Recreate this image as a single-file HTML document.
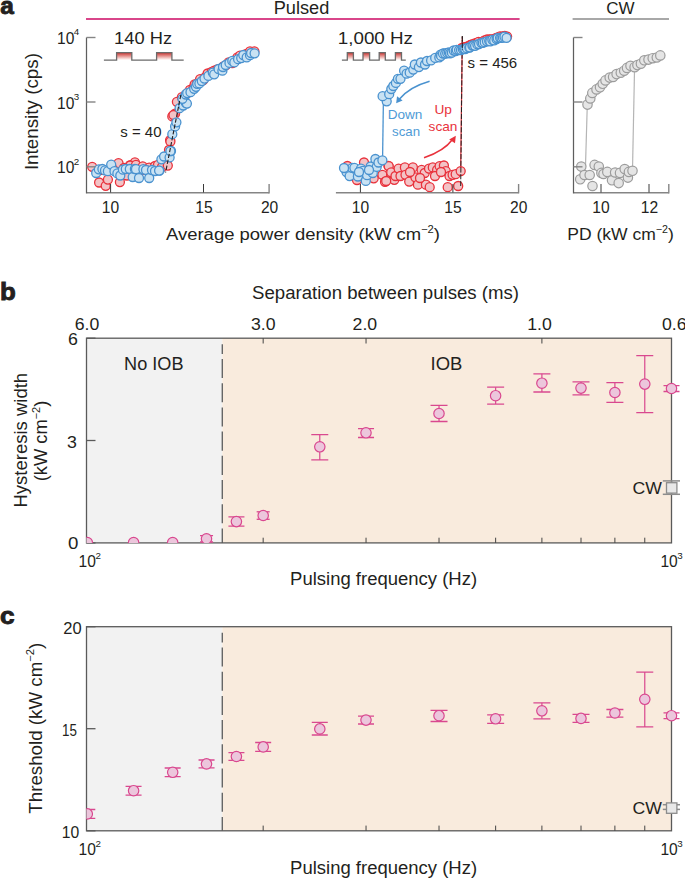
<!DOCTYPE html><html><head><meta charset="utf-8"><style>html,body{margin:0;padding:0;background:#fff;}svg{display:block;}</style></head><body><svg width="685" height="878" viewBox="0 0 685 878" font-family="Liberation Sans, sans-serif">
<defs><linearGradient id="pg" x1="0" y1="0" x2="0" y2="1"><stop offset="0" stop-color="#c9302c"/><stop offset="0.85" stop-color="#fbe3e0"/><stop offset="1" stop-color="#ffffff"/></linearGradient><clipPath id="cb"><rect x="86.5" y="330" width="600" height="212.9"/></clipPath><clipPath id="cc"><rect x="86.5" y="620" width="600" height="210.8"/></clipPath></defs>
<rect width="685" height="878" fill="#fff"/>
<text x="0.2" y="13.6" font-size="24.4" fill="#231f20" text-anchor="start" font-weight="bold" stroke="#231f20" stroke-width="0.9">a</text>
<text x="301.5" y="13.9" font-size="17.5" fill="#231f20" text-anchor="middle" textLength="55.6" lengthAdjust="spacingAndGlyphs" >Pulsed</text>
<line x1="86" y1="19" x2="519.6" y2="19" stroke="#d9468a" stroke-width="1.8" />
<text x="620.5" y="13.8" font-size="17" fill="#231f20" text-anchor="middle" >CW</text>
<line x1="572.6" y1="19" x2="669" y2="19" stroke="#a8a8a8" stroke-width="1.8" />
<text transform="translate(37.9,111.6) rotate(-90)" font-size="18.2" fill="#231f20" text-anchor="middle" textLength="117" lengthAdjust="spacingAndGlyphs">Intensity (cps)</text>
<text x="57.0" y="43.8" font-size="15.6" fill="#231f20">10<tspan font-size="9.8" dy="-8.4" dx="-0.6">4</tspan></text>
<text x="57.0" y="108.6" font-size="15.6" fill="#231f20">10<tspan font-size="9.8" dy="-8.4" dx="-0.6">3</tspan></text>
<text x="57.0" y="173.3" font-size="15.6" fill="#231f20">10<tspan font-size="9.8" dy="-8.4" dx="-0.6">2</tspan></text>
<text x="110.5" y="212.6" font-size="15.6" fill="#231f20" text-anchor="middle" >10</text>
<text x="204" y="212.6" font-size="15.6" fill="#231f20" text-anchor="middle" >15</text>
<text x="269.6" y="212.6" font-size="15.6" fill="#231f20" text-anchor="middle" >20</text>
<text x="360.4" y="212.6" font-size="15.6" fill="#231f20" text-anchor="middle" >10</text>
<text x="453" y="212.6" font-size="15.6" fill="#231f20" text-anchor="middle" >15</text>
<text x="518.7" y="212.6" font-size="15.6" fill="#231f20" text-anchor="middle" >20</text>
<text x="601" y="212.6" font-size="15.6" fill="#231f20" text-anchor="middle" >10</text>
<text x="649.5" y="212.6" font-size="15.6" fill="#231f20" text-anchor="middle" >12</text>
<text x="166" y="240.4" font-size="17.3" fill="#231f20" textLength="274" lengthAdjust="spacingAndGlyphs">Average power density (kW cm<tspan font-size="10.5" dy="-7">−2</tspan><tspan dy="7">)</tspan></text>
<text x="567.2" y="240.4" font-size="17.3" fill="#231f20" textLength="106.6" lengthAdjust="spacingAndGlyphs">PD (kW cm<tspan font-size="10.5" dy="-7">−2</tspan><tspan dy="7">)</tspan></text>
<rect x="116.6" y="52.6" width="15.200000000000017" height="7.5" fill="url(#pg)"/>
<rect x="156.6" y="52.6" width="15.300000000000011" height="7.5" fill="url(#pg)"/>
<path d="M103.9,60.1 L116.6,60.1 L116.6,52.6 L131.8,52.6 L131.8,60.1 L156.6,60.1 L156.6,52.6 L171.9,52.6 L171.9,60.1 L183.7,60.1" fill="none" stroke="#6b6b6b" stroke-width="1.3"/>
<rect x="347.3" y="52.6" width="6.099999999999966" height="7.5" fill="url(#pg)"/>
<rect x="363" y="52.6" width="6.600000000000023" height="7.5" fill="url(#pg)"/>
<rect x="379.2" y="52.6" width="6.100000000000023" height="7.5" fill="url(#pg)"/>
<rect x="395.4" y="52.6" width="6.100000000000023" height="7.5" fill="url(#pg)"/>
<path d="M341.9,60.1 L347.3,60.1 L347.3,52.6 L353.4,52.6 L353.4,60.1 L363,60.1 L363,52.6 L369.6,52.6 L369.6,60.1 L379.2,60.1 L379.2,52.6 L385.3,52.6 L385.3,60.1 L395.4,60.1 L395.4,52.6 L401.5,52.6 L401.5,60.1 L405.8,60.1" fill="none" stroke="#6b6b6b" stroke-width="1.3"/>
<text x="143.1" y="44" font-size="17.4" fill="#231f20" text-anchor="middle" textLength="58" lengthAdjust="spacingAndGlyphs" >140 Hz</text>
<text x="375.4" y="44" font-size="17.4" fill="#231f20" text-anchor="middle" textLength="75.2" lengthAdjust="spacingAndGlyphs" >1,000 Hz</text>
<circle cx="92.2" cy="166.8" r="4.5" fill="#f3c3c6" stroke="#e8323c" stroke-width="1.3"/>
<circle cx="99.1" cy="182.5" r="4.5" fill="#f3c3c6" stroke="#e8323c" stroke-width="1.3"/>
<circle cx="105.7" cy="185.8" r="4.5" fill="#f3c3c6" stroke="#e8323c" stroke-width="1.3"/>
<circle cx="107.9" cy="179.6" r="4.5" fill="#f3c3c6" stroke="#e8323c" stroke-width="1.3"/>
<circle cx="118.5" cy="163.1" r="4.5" fill="#f3c3c6" stroke="#e8323c" stroke-width="1.3"/>
<circle cx="119.9" cy="182.1" r="4.5" fill="#f3c3c6" stroke="#e8323c" stroke-width="1.3"/>
<circle cx="126.9" cy="175.5" r="4.5" fill="#f3c3c6" stroke="#e8323c" stroke-width="1.3"/>
<circle cx="129.8" cy="165.3" r="4.5" fill="#f3c3c6" stroke="#e8323c" stroke-width="1.3"/>
<circle cx="134.9" cy="162.4" r="4.5" fill="#f3c3c6" stroke="#e8323c" stroke-width="1.3"/>
<circle cx="130.3" cy="165.5" r="4.5" fill="#f3c3c6" stroke="#e8323c" stroke-width="1.3"/>
<circle cx="136.0" cy="164.8" r="4.5" fill="#f3c3c6" stroke="#e8323c" stroke-width="1.3"/>
<circle cx="142.7" cy="166.3" r="4.5" fill="#f3c3c6" stroke="#e8323c" stroke-width="1.3"/>
<circle cx="149.2" cy="167.7" r="4.5" fill="#f3c3c6" stroke="#e8323c" stroke-width="1.3"/>
<circle cx="155.0" cy="166.0" r="4.5" fill="#f3c3c6" stroke="#e8323c" stroke-width="1.3"/>
<circle cx="158.0" cy="164.8" r="4.5" fill="#f3c3c6" stroke="#e8323c" stroke-width="1.3"/>
<circle cx="162.0" cy="167.0" r="4.5" fill="#f3c3c6" stroke="#e8323c" stroke-width="1.3"/>
<circle cx="167.8" cy="165.6" r="4.5" fill="#f3c3c6" stroke="#e8323c" stroke-width="1.3"/>
<circle cx="170.1" cy="140.1" r="4.5" fill="#f3c3c6" stroke="#e8323c" stroke-width="1.3"/>
<circle cx="172.3" cy="116.4" r="4.5" fill="#f3c3c6" stroke="#e8323c" stroke-width="1.3"/>
<circle cx="175.1" cy="113.7" r="4.5" fill="#f3c3c6" stroke="#e8323c" stroke-width="1.3"/>
<circle cx="176.9" cy="101.8" r="4.5" fill="#f3c3c6" stroke="#e8323c" stroke-width="1.3"/>
<circle cx="170.4" cy="141.5" r="4.5" fill="#f3c3c6" stroke="#e8323c" stroke-width="1.3"/>
<circle cx="100.0" cy="170.0" r="4.5" fill="#f3c3c6" stroke="#e8323c" stroke-width="1.3"/>
<circle cx="112.0" cy="168.0" r="4.5" fill="#f3c3c6" stroke="#e8323c" stroke-width="1.3"/>
<circle cx="124.0" cy="168.0" r="4.5" fill="#f3c3c6" stroke="#e8323c" stroke-width="1.3"/>
<circle cx="146.0" cy="170.0" r="4.5" fill="#f3c3c6" stroke="#e8323c" stroke-width="1.3"/>
<circle cx="140.0" cy="171.0" r="4.5" fill="#f3c3c6" stroke="#e8323c" stroke-width="1.3"/>
<circle cx="173.5" cy="115.0" r="4.5" fill="#f3c3c6" stroke="#e8323c" stroke-width="1.3"/>
<circle cx="169.0" cy="150.0" r="4.5" fill="#f3c3c6" stroke="#e8323c" stroke-width="1.3"/>
<circle cx="181.9" cy="97.2" r="4.5" fill="#f3c3c6" stroke="#e8323c" stroke-width="1.3"/>
<circle cx="185.8" cy="94.6" r="4.5" fill="#f3c3c6" stroke="#e8323c" stroke-width="1.3"/>
<circle cx="187.9" cy="92.7" r="4.5" fill="#f3c3c6" stroke="#e8323c" stroke-width="1.3"/>
<circle cx="189.9" cy="89.8" r="4.5" fill="#f3c3c6" stroke="#e8323c" stroke-width="1.3"/>
<circle cx="193.4" cy="88.1" r="4.5" fill="#f3c3c6" stroke="#e8323c" stroke-width="1.3"/>
<circle cx="194.6" cy="84.4" r="4.5" fill="#f3c3c6" stroke="#e8323c" stroke-width="1.3"/>
<circle cx="196.7" cy="83.8" r="4.5" fill="#f3c3c6" stroke="#e8323c" stroke-width="1.3"/>
<circle cx="200.1" cy="79.1" r="4.5" fill="#f3c3c6" stroke="#e8323c" stroke-width="1.3"/>
<circle cx="203.3" cy="80.1" r="4.5" fill="#f3c3c6" stroke="#e8323c" stroke-width="1.3"/>
<circle cx="205.3" cy="77.1" r="4.5" fill="#f3c3c6" stroke="#e8323c" stroke-width="1.3"/>
<circle cx="207.6" cy="73.5" r="4.5" fill="#f3c3c6" stroke="#e8323c" stroke-width="1.3"/>
<circle cx="211.6" cy="72.0" r="4.5" fill="#f3c3c6" stroke="#e8323c" stroke-width="1.3"/>
<circle cx="214.2" cy="70.6" r="4.5" fill="#f3c3c6" stroke="#e8323c" stroke-width="1.3"/>
<circle cx="217.2" cy="69.3" r="4.5" fill="#f3c3c6" stroke="#e8323c" stroke-width="1.3"/>
<circle cx="220.6" cy="68.8" r="4.5" fill="#f3c3c6" stroke="#e8323c" stroke-width="1.3"/>
<circle cx="223.4" cy="66.5" r="4.5" fill="#f3c3c6" stroke="#e8323c" stroke-width="1.3"/>
<circle cx="226.0" cy="65.1" r="4.5" fill="#f3c3c6" stroke="#e8323c" stroke-width="1.3"/>
<circle cx="228.6" cy="62.3" r="4.5" fill="#f3c3c6" stroke="#e8323c" stroke-width="1.3"/>
<circle cx="232.3" cy="63.1" r="4.5" fill="#f3c3c6" stroke="#e8323c" stroke-width="1.3"/>
<circle cx="235.2" cy="60.6" r="4.5" fill="#f3c3c6" stroke="#e8323c" stroke-width="1.3"/>
<circle cx="237.4" cy="57.4" r="4.5" fill="#f3c3c6" stroke="#e8323c" stroke-width="1.3"/>
<circle cx="240.0" cy="55.6" r="4.5" fill="#f3c3c6" stroke="#e8323c" stroke-width="1.3"/>
<circle cx="243.6" cy="55.3" r="4.5" fill="#f3c3c6" stroke="#e8323c" stroke-width="1.3"/>
<circle cx="246.4" cy="53.9" r="4.5" fill="#f3c3c6" stroke="#e8323c" stroke-width="1.3"/>
<circle cx="249.2" cy="54.4" r="4.5" fill="#f3c3c6" stroke="#e8323c" stroke-width="1.3"/>
<circle cx="250.0" cy="51.4" r="4.5" fill="#f3c3c6" stroke="#e8323c" stroke-width="1.3"/>
<circle cx="254.4" cy="51.3" r="4.5" fill="#f3c3c6" stroke="#e8323c" stroke-width="1.3"/>
<circle cx="96.2" cy="173.0" r="4.5" fill="#c9e2f3" stroke="#4a92cf" stroke-width="1.3"/>
<circle cx="98.8" cy="169.3" r="4.5" fill="#c9e2f3" stroke="#4a92cf" stroke-width="1.3"/>
<circle cx="102.4" cy="169.0" r="4.5" fill="#c9e2f3" stroke="#4a92cf" stroke-width="1.3"/>
<circle cx="105.0" cy="170.4" r="4.5" fill="#c9e2f3" stroke="#4a92cf" stroke-width="1.3"/>
<circle cx="107.9" cy="171.2" r="4.5" fill="#c9e2f3" stroke="#4a92cf" stroke-width="1.3"/>
<circle cx="111.2" cy="164.6" r="4.5" fill="#c9e2f3" stroke="#4a92cf" stroke-width="1.3"/>
<circle cx="114.5" cy="171.2" r="4.5" fill="#c9e2f3" stroke="#4a92cf" stroke-width="1.3"/>
<circle cx="117.4" cy="173.4" r="4.5" fill="#c9e2f3" stroke="#4a92cf" stroke-width="1.3"/>
<circle cx="120.3" cy="175.5" r="4.5" fill="#c9e2f3" stroke="#4a92cf" stroke-width="1.3"/>
<circle cx="122.9" cy="169.7" r="4.5" fill="#c9e2f3" stroke="#4a92cf" stroke-width="1.3"/>
<circle cx="125.8" cy="169.0" r="4.5" fill="#c9e2f3" stroke="#4a92cf" stroke-width="1.3"/>
<circle cx="129.8" cy="169.0" r="4.5" fill="#c9e2f3" stroke="#4a92cf" stroke-width="1.3"/>
<circle cx="132.7" cy="177.0" r="4.5" fill="#c9e2f3" stroke="#4a92cf" stroke-width="1.3"/>
<circle cx="134.9" cy="169.0" r="4.5" fill="#c9e2f3" stroke="#4a92cf" stroke-width="1.3"/>
<circle cx="136.0" cy="169.2" r="4.5" fill="#c9e2f3" stroke="#4a92cf" stroke-width="1.3"/>
<circle cx="139.0" cy="178.0" r="4.5" fill="#c9e2f3" stroke="#4a92cf" stroke-width="1.3"/>
<circle cx="143.4" cy="169.2" r="4.5" fill="#c9e2f3" stroke="#4a92cf" stroke-width="1.3"/>
<circle cx="146.0" cy="170.0" r="4.5" fill="#c9e2f3" stroke="#4a92cf" stroke-width="1.3"/>
<circle cx="149.2" cy="178.0" r="4.5" fill="#c9e2f3" stroke="#4a92cf" stroke-width="1.3"/>
<circle cx="152.0" cy="170.0" r="4.5" fill="#c9e2f3" stroke="#4a92cf" stroke-width="1.3"/>
<circle cx="155.0" cy="171.0" r="4.5" fill="#c9e2f3" stroke="#4a92cf" stroke-width="1.3"/>
<circle cx="159.5" cy="170.7" r="4.5" fill="#c9e2f3" stroke="#4a92cf" stroke-width="1.3"/>
<circle cx="159.1" cy="170.6" r="4.5" fill="#c9e2f3" stroke="#4a92cf" stroke-width="1.3"/>
<circle cx="161.4" cy="159.3" r="4.5" fill="#c9e2f3" stroke="#4a92cf" stroke-width="1.3"/>
<circle cx="164.1" cy="156.5" r="4.5" fill="#c9e2f3" stroke="#4a92cf" stroke-width="1.3"/>
<circle cx="169.6" cy="157.4" r="4.5" fill="#c9e2f3" stroke="#4a92cf" stroke-width="1.3"/>
<circle cx="171.0" cy="151.0" r="4.5" fill="#c9e2f3" stroke="#4a92cf" stroke-width="1.3"/>
<circle cx="170.4" cy="151.0" r="4.5" fill="#c9e2f3" stroke="#4a92cf" stroke-width="1.3"/>
<circle cx="172.3" cy="134.2" r="4.5" fill="#c9e2f3" stroke="#4a92cf" stroke-width="1.3"/>
<circle cx="175.1" cy="126.4" r="4.5" fill="#c9e2f3" stroke="#4a92cf" stroke-width="1.3"/>
<circle cx="176.4" cy="122.3" r="4.5" fill="#c9e2f3" stroke="#4a92cf" stroke-width="1.3"/>
<circle cx="179.6" cy="108.2" r="4.5" fill="#c9e2f3" stroke="#4a92cf" stroke-width="1.3"/>
<circle cx="183.3" cy="105.5" r="4.5" fill="#c9e2f3" stroke="#4a92cf" stroke-width="1.3"/>
<circle cx="185.8" cy="102.8" r="4.5" fill="#c9e2f3" stroke="#4a92cf" stroke-width="1.3"/>
<circle cx="186.9" cy="103.6" r="4.5" fill="#c9e2f3" stroke="#4a92cf" stroke-width="1.3"/>
<circle cx="182.4" cy="98.8" r="4.5" fill="#c9e2f3" stroke="#4a92cf" stroke-width="1.3"/>
<circle cx="185.8" cy="94.5" r="4.5" fill="#c9e2f3" stroke="#4a92cf" stroke-width="1.3"/>
<circle cx="187.2" cy="93.1" r="4.5" fill="#c9e2f3" stroke="#4a92cf" stroke-width="1.3"/>
<circle cx="190.5" cy="92.2" r="4.5" fill="#c9e2f3" stroke="#4a92cf" stroke-width="1.3"/>
<circle cx="194.2" cy="88.8" r="4.5" fill="#c9e2f3" stroke="#4a92cf" stroke-width="1.3"/>
<circle cx="196.0" cy="86.8" r="4.5" fill="#c9e2f3" stroke="#4a92cf" stroke-width="1.3"/>
<circle cx="197.2" cy="83.8" r="4.5" fill="#c9e2f3" stroke="#4a92cf" stroke-width="1.3"/>
<circle cx="199.4" cy="83.4" r="4.5" fill="#c9e2f3" stroke="#4a92cf" stroke-width="1.3"/>
<circle cx="201.8" cy="81.1" r="4.5" fill="#c9e2f3" stroke="#4a92cf" stroke-width="1.3"/>
<circle cx="204.5" cy="78.6" r="4.5" fill="#c9e2f3" stroke="#4a92cf" stroke-width="1.3"/>
<circle cx="208.4" cy="75.9" r="4.5" fill="#c9e2f3" stroke="#4a92cf" stroke-width="1.3"/>
<circle cx="212.8" cy="72.7" r="4.5" fill="#c9e2f3" stroke="#4a92cf" stroke-width="1.3"/>
<circle cx="214.2" cy="74.3" r="4.5" fill="#c9e2f3" stroke="#4a92cf" stroke-width="1.3"/>
<circle cx="218.6" cy="69.0" r="4.5" fill="#c9e2f3" stroke="#4a92cf" stroke-width="1.3"/>
<circle cx="222.4" cy="70.7" r="4.5" fill="#c9e2f3" stroke="#4a92cf" stroke-width="1.3"/>
<circle cx="223.0" cy="67.0" r="4.5" fill="#c9e2f3" stroke="#4a92cf" stroke-width="1.3"/>
<circle cx="225.7" cy="65.0" r="4.5" fill="#c9e2f3" stroke="#4a92cf" stroke-width="1.3"/>
<circle cx="229.5" cy="62.9" r="4.5" fill="#c9e2f3" stroke="#4a92cf" stroke-width="1.3"/>
<circle cx="232.3" cy="60.9" r="4.5" fill="#c9e2f3" stroke="#4a92cf" stroke-width="1.3"/>
<circle cx="234.3" cy="62.4" r="4.5" fill="#c9e2f3" stroke="#4a92cf" stroke-width="1.3"/>
<circle cx="238.1" cy="59.2" r="4.5" fill="#c9e2f3" stroke="#4a92cf" stroke-width="1.3"/>
<circle cx="241.2" cy="58.1" r="4.5" fill="#c9e2f3" stroke="#4a92cf" stroke-width="1.3"/>
<circle cx="243.3" cy="55.0" r="4.5" fill="#c9e2f3" stroke="#4a92cf" stroke-width="1.3"/>
<circle cx="246.7" cy="57.4" r="4.5" fill="#c9e2f3" stroke="#4a92cf" stroke-width="1.3"/>
<circle cx="250.0" cy="55.2" r="4.5" fill="#c9e2f3" stroke="#4a92cf" stroke-width="1.3"/>
<circle cx="251.1" cy="53.0" r="4.5" fill="#c9e2f3" stroke="#4a92cf" stroke-width="1.3"/>
<circle cx="254.6" cy="53.3" r="4.5" fill="#c9e2f3" stroke="#4a92cf" stroke-width="1.3"/>
<line x1="180.8" y1="95" x2="165.6" y2="172.5" stroke="#231f20" stroke-width="1.1" stroke-dasharray="4.2 1.8"/>
<text x="120.3" y="137" font-size="15" fill="#231f20" text-anchor="start" textLength="41.2" lengthAdjust="spacingAndGlyphs" >s = 40</text>
<circle cx="347.4" cy="166.0" r="4.5" fill="#f3c3c6" stroke="#e8323c" stroke-width="1.3"/>
<circle cx="357.0" cy="180.0" r="4.5" fill="#f3c3c6" stroke="#e8323c" stroke-width="1.3"/>
<circle cx="364.0" cy="162.5" r="4.5" fill="#f3c3c6" stroke="#e8323c" stroke-width="1.3"/>
<circle cx="373.7" cy="178.3" r="4.5" fill="#f3c3c6" stroke="#e8323c" stroke-width="1.3"/>
<circle cx="382.4" cy="174.8" r="4.5" fill="#f3c3c6" stroke="#e8323c" stroke-width="1.3"/>
<circle cx="385.0" cy="181.8" r="4.5" fill="#f3c3c6" stroke="#e8323c" stroke-width="1.3"/>
<circle cx="388.5" cy="166.0" r="4.5" fill="#f3c3c6" stroke="#e8323c" stroke-width="1.3"/>
<circle cx="391.2" cy="173.9" r="4.5" fill="#f3c3c6" stroke="#e8323c" stroke-width="1.3"/>
<circle cx="394.7" cy="175.6" r="4.5" fill="#f3c3c6" stroke="#e8323c" stroke-width="1.3"/>
<circle cx="388.7" cy="166.1" r="4.5" fill="#f3c3c6" stroke="#e8323c" stroke-width="1.3"/>
<circle cx="391.2" cy="172.3" r="4.5" fill="#f3c3c6" stroke="#e8323c" stroke-width="1.3"/>
<circle cx="394.3" cy="179.8" r="4.5" fill="#f3c3c6" stroke="#e8323c" stroke-width="1.3"/>
<circle cx="395.5" cy="176.0" r="4.5" fill="#f3c3c6" stroke="#e8323c" stroke-width="1.3"/>
<circle cx="398.6" cy="168.6" r="4.5" fill="#f3c3c6" stroke="#e8323c" stroke-width="1.3"/>
<circle cx="400.5" cy="176.0" r="4.5" fill="#f3c3c6" stroke="#e8323c" stroke-width="1.3"/>
<circle cx="404.9" cy="167.4" r="4.5" fill="#f3c3c6" stroke="#e8323c" stroke-width="1.3"/>
<circle cx="405.5" cy="174.8" r="4.5" fill="#f3c3c6" stroke="#e8323c" stroke-width="1.3"/>
<circle cx="409.2" cy="181.6" r="4.5" fill="#f3c3c6" stroke="#e8323c" stroke-width="1.3"/>
<circle cx="412.9" cy="167.4" r="4.5" fill="#f3c3c6" stroke="#e8323c" stroke-width="1.3"/>
<circle cx="415.4" cy="177.3" r="4.5" fill="#f3c3c6" stroke="#e8323c" stroke-width="1.3"/>
<circle cx="417.9" cy="184.7" r="4.5" fill="#f3c3c6" stroke="#e8323c" stroke-width="1.3"/>
<circle cx="421.6" cy="169.9" r="4.5" fill="#f3c3c6" stroke="#e8323c" stroke-width="1.3"/>
<circle cx="424.7" cy="173.0" r="4.5" fill="#f3c3c6" stroke="#e8323c" stroke-width="1.3"/>
<circle cx="425.9" cy="184.7" r="4.5" fill="#f3c3c6" stroke="#e8323c" stroke-width="1.3"/>
<circle cx="429.0" cy="168.6" r="4.5" fill="#f3c3c6" stroke="#e8323c" stroke-width="1.3"/>
<circle cx="429.7" cy="187.2" r="4.5" fill="#f3c3c6" stroke="#e8323c" stroke-width="1.3"/>
<circle cx="432.8" cy="167.4" r="4.5" fill="#f3c3c6" stroke="#e8323c" stroke-width="1.3"/>
<circle cx="437.1" cy="169.9" r="4.5" fill="#f3c3c6" stroke="#e8323c" stroke-width="1.3"/>
<circle cx="439.6" cy="166.1" r="4.5" fill="#f3c3c6" stroke="#e8323c" stroke-width="1.3"/>
<circle cx="443.9" cy="165.5" r="4.5" fill="#f3c3c6" stroke="#e8323c" stroke-width="1.3"/>
<circle cx="445.8" cy="171.1" r="4.5" fill="#f3c3c6" stroke="#e8323c" stroke-width="1.3"/>
<circle cx="447.7" cy="187.2" r="4.5" fill="#f3c3c6" stroke="#e8323c" stroke-width="1.3"/>
<circle cx="449.5" cy="176.0" r="4.5" fill="#f3c3c6" stroke="#e8323c" stroke-width="1.3"/>
<circle cx="452.6" cy="174.8" r="4.5" fill="#f3c3c6" stroke="#e8323c" stroke-width="1.3"/>
<circle cx="455.7" cy="174.2" r="4.5" fill="#f3c3c6" stroke="#e8323c" stroke-width="1.3"/>
<circle cx="458.2" cy="186.0" r="4.5" fill="#f3c3c6" stroke="#e8323c" stroke-width="1.3"/>
<circle cx="460.7" cy="171.1" r="4.5" fill="#f3c3c6" stroke="#e8323c" stroke-width="1.3"/>
<circle cx="386.2" cy="181.0" r="4.5" fill="#f3c3c6" stroke="#e8323c" stroke-width="1.3"/>
<circle cx="410.0" cy="172.0" r="4.5" fill="#f3c3c6" stroke="#e8323c" stroke-width="1.3"/>
<circle cx="420.0" cy="178.0" r="4.5" fill="#f3c3c6" stroke="#e8323c" stroke-width="1.3"/>
<circle cx="435.0" cy="176.0" r="4.5" fill="#f3c3c6" stroke="#e8323c" stroke-width="1.3"/>
<circle cx="441.0" cy="172.0" r="4.5" fill="#f3c3c6" stroke="#e8323c" stroke-width="1.3"/>
<line x1="460.7" y1="168" x2="462.3" y2="36.5" stroke="#e8323c" stroke-width="1.2" />
<line x1="460.7" y1="186" x2="462.3" y2="36.5" stroke="#231f20" stroke-width="1.0" stroke-dasharray="5.2 1.5"/>
<circle cx="461.9" cy="48.0" r="4.5" fill="#f3c3c6" stroke="#e8323c" stroke-width="1.3"/>
<circle cx="464.4" cy="47.1" r="4.5" fill="#f3c3c6" stroke="#e8323c" stroke-width="1.3"/>
<circle cx="466.0" cy="47.0" r="4.5" fill="#f3c3c6" stroke="#e8323c" stroke-width="1.3"/>
<circle cx="468.6" cy="46.0" r="4.5" fill="#f3c3c6" stroke="#e8323c" stroke-width="1.3"/>
<circle cx="470.4" cy="45.0" r="4.5" fill="#f3c3c6" stroke="#e8323c" stroke-width="1.3"/>
<circle cx="472.0" cy="44.5" r="4.5" fill="#f3c3c6" stroke="#e8323c" stroke-width="1.3"/>
<circle cx="474.7" cy="43.3" r="4.5" fill="#f3c3c6" stroke="#e8323c" stroke-width="1.3"/>
<circle cx="477.0" cy="42.9" r="4.5" fill="#f3c3c6" stroke="#e8323c" stroke-width="1.3"/>
<circle cx="478.5" cy="41.9" r="4.5" fill="#f3c3c6" stroke="#e8323c" stroke-width="1.3"/>
<circle cx="481.4" cy="42.3" r="4.5" fill="#f3c3c6" stroke="#e8323c" stroke-width="1.3"/>
<circle cx="483.3" cy="41.5" r="4.5" fill="#f3c3c6" stroke="#e8323c" stroke-width="1.3"/>
<circle cx="484.5" cy="40.4" r="4.5" fill="#f3c3c6" stroke="#e8323c" stroke-width="1.3"/>
<circle cx="487.0" cy="39.5" r="4.5" fill="#f3c3c6" stroke="#e8323c" stroke-width="1.3"/>
<circle cx="489.4" cy="39.3" r="4.5" fill="#f3c3c6" stroke="#e8323c" stroke-width="1.3"/>
<circle cx="491.0" cy="39.4" r="4.5" fill="#f3c3c6" stroke="#e8323c" stroke-width="1.3"/>
<circle cx="493.4" cy="39.1" r="4.5" fill="#f3c3c6" stroke="#e8323c" stroke-width="1.3"/>
<circle cx="496.1" cy="37.9" r="4.5" fill="#f3c3c6" stroke="#e8323c" stroke-width="1.3"/>
<circle cx="498.0" cy="37.4" r="4.5" fill="#f3c3c6" stroke="#e8323c" stroke-width="1.3"/>
<circle cx="500.0" cy="36.3" r="4.5" fill="#f3c3c6" stroke="#e8323c" stroke-width="1.3"/>
<circle cx="502.8" cy="36.3" r="4.5" fill="#f3c3c6" stroke="#e8323c" stroke-width="1.3"/>
<circle cx="504.8" cy="35.9" r="4.5" fill="#f3c3c6" stroke="#e8323c" stroke-width="1.3"/>
<circle cx="507.1" cy="36.6" r="4.5" fill="#f3c3c6" stroke="#e8323c" stroke-width="1.3"/>
<line x1="382.6" y1="158" x2="383.4" y2="100" stroke="#4a92cf" stroke-width="1.3" />
<circle cx="346.5" cy="172.1" r="4.5" fill="#c9e2f3" stroke="#4a92cf" stroke-width="1.3"/>
<circle cx="349.6" cy="176.1" r="4.5" fill="#c9e2f3" stroke="#4a92cf" stroke-width="1.3"/>
<circle cx="352.2" cy="167.8" r="4.5" fill="#c9e2f3" stroke="#4a92cf" stroke-width="1.3"/>
<circle cx="354.4" cy="167.8" r="4.5" fill="#c9e2f3" stroke="#4a92cf" stroke-width="1.3"/>
<circle cx="357.9" cy="176.5" r="4.5" fill="#c9e2f3" stroke="#4a92cf" stroke-width="1.3"/>
<circle cx="361.0" cy="168.6" r="4.5" fill="#c9e2f3" stroke="#4a92cf" stroke-width="1.3"/>
<circle cx="362.7" cy="170.8" r="4.5" fill="#c9e2f3" stroke="#4a92cf" stroke-width="1.3"/>
<circle cx="365.8" cy="180.9" r="4.5" fill="#c9e2f3" stroke="#4a92cf" stroke-width="1.3"/>
<circle cx="367.1" cy="175.2" r="4.5" fill="#c9e2f3" stroke="#4a92cf" stroke-width="1.3"/>
<circle cx="370.6" cy="166.5" r="4.5" fill="#c9e2f3" stroke="#4a92cf" stroke-width="1.3"/>
<circle cx="372.8" cy="173.0" r="4.5" fill="#c9e2f3" stroke="#4a92cf" stroke-width="1.3"/>
<circle cx="375.4" cy="159.0" r="4.5" fill="#c9e2f3" stroke="#4a92cf" stroke-width="1.3"/>
<circle cx="376.7" cy="166.9" r="4.5" fill="#c9e2f3" stroke="#4a92cf" stroke-width="1.3"/>
<circle cx="378.5" cy="162.5" r="4.5" fill="#c9e2f3" stroke="#4a92cf" stroke-width="1.3"/>
<circle cx="382.4" cy="160.3" r="4.5" fill="#c9e2f3" stroke="#4a92cf" stroke-width="1.3"/>
<circle cx="344.0" cy="168.0" r="4.5" fill="#c9e2f3" stroke="#4a92cf" stroke-width="1.3"/>
<circle cx="359.0" cy="172.0" r="4.5" fill="#c9e2f3" stroke="#4a92cf" stroke-width="1.3"/>
<circle cx="369.0" cy="170.0" r="4.5" fill="#c9e2f3" stroke="#4a92cf" stroke-width="1.3"/>
<circle cx="386.7" cy="101.3" r="4.5" fill="#c9e2f3" stroke="#4a92cf" stroke-width="1.3"/>
<circle cx="382.6" cy="96.2" r="4.5" fill="#c9e2f3" stroke="#4a92cf" stroke-width="1.3"/>
<circle cx="389.2" cy="94.2" r="4.5" fill="#c9e2f3" stroke="#4a92cf" stroke-width="1.3"/>
<circle cx="391.3" cy="89.0" r="4.5" fill="#c9e2f3" stroke="#4a92cf" stroke-width="1.3"/>
<circle cx="393.3" cy="86.0" r="4.5" fill="#c9e2f3" stroke="#4a92cf" stroke-width="1.3"/>
<circle cx="395.9" cy="82.9" r="4.5" fill="#c9e2f3" stroke="#4a92cf" stroke-width="1.3"/>
<circle cx="397.9" cy="78.8" r="4.5" fill="#c9e2f3" stroke="#4a92cf" stroke-width="1.3"/>
<circle cx="400.5" cy="78.8" r="4.5" fill="#c9e2f3" stroke="#4a92cf" stroke-width="1.3"/>
<circle cx="404.1" cy="70.7" r="4.5" fill="#c9e2f3" stroke="#4a92cf" stroke-width="1.3"/>
<circle cx="406.6" cy="73.7" r="4.5" fill="#c9e2f3" stroke="#4a92cf" stroke-width="1.3"/>
<circle cx="409.7" cy="72.7" r="4.5" fill="#c9e2f3" stroke="#4a92cf" stroke-width="1.3"/>
<circle cx="413.3" cy="69.6" r="4.5" fill="#c9e2f3" stroke="#4a92cf" stroke-width="1.3"/>
<circle cx="414.8" cy="64.5" r="4.5" fill="#c9e2f3" stroke="#4a92cf" stroke-width="1.3"/>
<circle cx="418.9" cy="67.1" r="4.5" fill="#c9e2f3" stroke="#4a92cf" stroke-width="1.3"/>
<circle cx="420.9" cy="62.5" r="4.5" fill="#c9e2f3" stroke="#4a92cf" stroke-width="1.3"/>
<circle cx="425.0" cy="64.5" r="4.5" fill="#c9e2f3" stroke="#4a92cf" stroke-width="1.3"/>
<circle cx="427.0" cy="61.0" r="4.5" fill="#c9e2f3" stroke="#4a92cf" stroke-width="1.3"/>
<circle cx="431.1" cy="60.4" r="4.5" fill="#c9e2f3" stroke="#4a92cf" stroke-width="1.3"/>
<circle cx="435.2" cy="57.9" r="4.5" fill="#c9e2f3" stroke="#4a92cf" stroke-width="1.3"/>
<circle cx="439.3" cy="57.4" r="4.5" fill="#c9e2f3" stroke="#4a92cf" stroke-width="1.3"/>
<circle cx="443.4" cy="53.3" r="4.5" fill="#c9e2f3" stroke="#4a92cf" stroke-width="1.3"/>
<circle cx="446.5" cy="53.3" r="4.5" fill="#c9e2f3" stroke="#4a92cf" stroke-width="1.3"/>
<circle cx="440.5" cy="54.7" r="4.5" fill="#c9e2f3" stroke="#4a92cf" stroke-width="1.3"/>
<circle cx="441.1" cy="55.9" r="4.5" fill="#c9e2f3" stroke="#4a92cf" stroke-width="1.3"/>
<circle cx="443.0" cy="53.6" r="4.5" fill="#c9e2f3" stroke="#4a92cf" stroke-width="1.3"/>
<circle cx="445.2" cy="53.6" r="4.5" fill="#c9e2f3" stroke="#4a92cf" stroke-width="1.3"/>
<circle cx="447.2" cy="52.9" r="4.5" fill="#c9e2f3" stroke="#4a92cf" stroke-width="1.3"/>
<circle cx="448.9" cy="52.5" r="4.5" fill="#c9e2f3" stroke="#4a92cf" stroke-width="1.3"/>
<circle cx="450.1" cy="53.3" r="4.5" fill="#c9e2f3" stroke="#4a92cf" stroke-width="1.3"/>
<circle cx="451.9" cy="52.7" r="4.5" fill="#c9e2f3" stroke="#4a92cf" stroke-width="1.3"/>
<circle cx="453.7" cy="50.5" r="4.5" fill="#c9e2f3" stroke="#4a92cf" stroke-width="1.3"/>
<circle cx="455.7" cy="51.1" r="4.5" fill="#c9e2f3" stroke="#4a92cf" stroke-width="1.3"/>
<circle cx="456.7" cy="49.8" r="4.5" fill="#c9e2f3" stroke="#4a92cf" stroke-width="1.3"/>
<circle cx="459.1" cy="50.1" r="4.5" fill="#c9e2f3" stroke="#4a92cf" stroke-width="1.3"/>
<circle cx="461.0" cy="50.0" r="4.5" fill="#c9e2f3" stroke="#4a92cf" stroke-width="1.3"/>
<circle cx="462.8" cy="49.1" r="4.5" fill="#c9e2f3" stroke="#4a92cf" stroke-width="1.3"/>
<circle cx="464.1" cy="48.8" r="4.5" fill="#c9e2f3" stroke="#4a92cf" stroke-width="1.3"/>
<circle cx="465.2" cy="49.0" r="4.5" fill="#c9e2f3" stroke="#4a92cf" stroke-width="1.3"/>
<circle cx="466.9" cy="48.2" r="4.5" fill="#c9e2f3" stroke="#4a92cf" stroke-width="1.3"/>
<circle cx="469.3" cy="47.5" r="4.5" fill="#c9e2f3" stroke="#4a92cf" stroke-width="1.3"/>
<circle cx="470.0" cy="47.4" r="4.5" fill="#c9e2f3" stroke="#4a92cf" stroke-width="1.3"/>
<circle cx="472.4" cy="45.5" r="4.5" fill="#c9e2f3" stroke="#4a92cf" stroke-width="1.3"/>
<circle cx="473.4" cy="45.6" r="4.5" fill="#c9e2f3" stroke="#4a92cf" stroke-width="1.3"/>
<circle cx="475.1" cy="45.8" r="4.5" fill="#c9e2f3" stroke="#4a92cf" stroke-width="1.3"/>
<circle cx="477.4" cy="44.4" r="4.5" fill="#c9e2f3" stroke="#4a92cf" stroke-width="1.3"/>
<circle cx="479.0" cy="44.1" r="4.5" fill="#c9e2f3" stroke="#4a92cf" stroke-width="1.3"/>
<circle cx="481.4" cy="42.8" r="4.5" fill="#c9e2f3" stroke="#4a92cf" stroke-width="1.3"/>
<circle cx="482.8" cy="42.8" r="4.5" fill="#c9e2f3" stroke="#4a92cf" stroke-width="1.3"/>
<circle cx="484.7" cy="42.2" r="4.5" fill="#c9e2f3" stroke="#4a92cf" stroke-width="1.3"/>
<circle cx="487.0" cy="41.3" r="4.5" fill="#c9e2f3" stroke="#4a92cf" stroke-width="1.3"/>
<circle cx="489.2" cy="40.9" r="4.5" fill="#c9e2f3" stroke="#4a92cf" stroke-width="1.3"/>
<circle cx="490.3" cy="41.4" r="4.5" fill="#c9e2f3" stroke="#4a92cf" stroke-width="1.3"/>
<circle cx="492.4" cy="39.8" r="4.5" fill="#c9e2f3" stroke="#4a92cf" stroke-width="1.3"/>
<circle cx="494.2" cy="40.4" r="4.5" fill="#c9e2f3" stroke="#4a92cf" stroke-width="1.3"/>
<circle cx="496.6" cy="39.1" r="4.5" fill="#c9e2f3" stroke="#4a92cf" stroke-width="1.3"/>
<circle cx="497.7" cy="38.0" r="4.5" fill="#c9e2f3" stroke="#4a92cf" stroke-width="1.3"/>
<circle cx="500.1" cy="37.8" r="4.5" fill="#c9e2f3" stroke="#4a92cf" stroke-width="1.3"/>
<circle cx="501.4" cy="37.9" r="4.5" fill="#c9e2f3" stroke="#4a92cf" stroke-width="1.3"/>
<circle cx="502.9" cy="37.6" r="4.5" fill="#c9e2f3" stroke="#4a92cf" stroke-width="1.3"/>
<circle cx="504.5" cy="36.7" r="4.5" fill="#c9e2f3" stroke="#4a92cf" stroke-width="1.3"/>
<circle cx="506.6" cy="37.9" r="4.5" fill="#c9e2f3" stroke="#4a92cf" stroke-width="1.3"/>
<line x1="462.3" y1="36" x2="462.3" y2="50" stroke="#231f20" stroke-width="1.0" stroke-dasharray="5.2 1.5"/>
<text x="467.5" y="68.2" font-size="15" fill="#231f20" text-anchor="start" textLength="49.7" lengthAdjust="spacingAndGlyphs" >s = 456</text>
<path d="M429.6,81.2 Q409,87 399,99.5" fill="none" stroke="#4a92cf" stroke-width="1.5"/>
<path d="M396.2,103.2 L397,96.2 L402.6,100.4 Z" fill="#4a92cf"/>
<path d="M424,157.8 Q444,151 452.5,139.5" fill="none" stroke="#e8323c" stroke-width="1.5"/>
<path d="M455.8,135.8 L455,143.2 L449.2,139.4 Z" fill="#e8323c"/>
<text x="405" y="119.4" font-size="13" fill="#4f9bd6" text-anchor="middle" textLength="34.7" lengthAdjust="spacingAndGlyphs" >Down</text>
<text x="406.1" y="135.7" font-size="13" fill="#4f9bd6" text-anchor="middle" textLength="28" lengthAdjust="spacingAndGlyphs" >scan</text>
<text x="443.2" y="114.4" font-size="13" fill="#e8323c" text-anchor="middle" textLength="17.5" lengthAdjust="spacingAndGlyphs" >Up</text>
<text x="443" y="131.2" font-size="13" fill="#e8323c" text-anchor="middle" textLength="28.9" lengthAdjust="spacingAndGlyphs" >scan</text>
<line x1="587.3" y1="104.6" x2="585.5" y2="166" stroke="#b5b5b5" stroke-width="1.2" />
<line x1="634.6" y1="66" x2="632.5" y2="170" stroke="#b5b5b5" stroke-width="1.2" />
<circle cx="581.3" cy="166.6" r="4.7" fill="#e5e5e5" stroke="#9c9c9c" stroke-width="1.2"/>
<circle cx="580.2" cy="179.3" r="4.7" fill="#e5e5e5" stroke="#9c9c9c" stroke-width="1.2"/>
<circle cx="584.5" cy="175.0" r="4.7" fill="#e5e5e5" stroke="#9c9c9c" stroke-width="1.2"/>
<circle cx="589.7" cy="175.0" r="4.7" fill="#e5e5e5" stroke="#9c9c9c" stroke-width="1.2"/>
<circle cx="592.5" cy="186.0" r="4.7" fill="#e5e5e5" stroke="#9c9c9c" stroke-width="1.2"/>
<circle cx="594.6" cy="164.9" r="4.7" fill="#e5e5e5" stroke="#9c9c9c" stroke-width="1.2"/>
<circle cx="598.8" cy="166.6" r="4.7" fill="#e5e5e5" stroke="#9c9c9c" stroke-width="1.2"/>
<circle cx="601.4" cy="172.9" r="4.7" fill="#e5e5e5" stroke="#9c9c9c" stroke-width="1.2"/>
<circle cx="603.5" cy="174.0" r="4.7" fill="#e5e5e5" stroke="#9c9c9c" stroke-width="1.2"/>
<circle cx="607.3" cy="171.9" r="4.7" fill="#e5e5e5" stroke="#9c9c9c" stroke-width="1.2"/>
<circle cx="612.0" cy="180.3" r="4.7" fill="#e5e5e5" stroke="#9c9c9c" stroke-width="1.2"/>
<circle cx="615.1" cy="172.5" r="4.7" fill="#e5e5e5" stroke="#9c9c9c" stroke-width="1.2"/>
<circle cx="618.7" cy="183.1" r="4.7" fill="#e5e5e5" stroke="#9c9c9c" stroke-width="1.2"/>
<circle cx="620.0" cy="172.9" r="4.7" fill="#e5e5e5" stroke="#9c9c9c" stroke-width="1.2"/>
<circle cx="624.7" cy="169.1" r="4.7" fill="#e5e5e5" stroke="#9c9c9c" stroke-width="1.2"/>
<circle cx="627.9" cy="177.6" r="4.7" fill="#e5e5e5" stroke="#9c9c9c" stroke-width="1.2"/>
<circle cx="628.9" cy="171.9" r="4.7" fill="#e5e5e5" stroke="#9c9c9c" stroke-width="1.2"/>
<circle cx="632.5" cy="170.8" r="4.7" fill="#e5e5e5" stroke="#9c9c9c" stroke-width="1.2"/>
<circle cx="587.5" cy="104.6" r="4.7" fill="#e5e5e5" stroke="#9c9c9c" stroke-width="1.2"/>
<circle cx="590.3" cy="98.4" r="4.7" fill="#e5e5e5" stroke="#9c9c9c" stroke-width="1.2"/>
<circle cx="592.3" cy="92.9" r="4.7" fill="#e5e5e5" stroke="#9c9c9c" stroke-width="1.2"/>
<circle cx="596.5" cy="89.4" r="4.7" fill="#e5e5e5" stroke="#9c9c9c" stroke-width="1.2"/>
<circle cx="600.0" cy="87.3" r="4.7" fill="#e5e5e5" stroke="#9c9c9c" stroke-width="1.2"/>
<circle cx="602.7" cy="83.8" r="4.7" fill="#e5e5e5" stroke="#9c9c9c" stroke-width="1.2"/>
<circle cx="605.5" cy="80.4" r="4.7" fill="#e5e5e5" stroke="#9c9c9c" stroke-width="1.2"/>
<circle cx="609.7" cy="77.6" r="4.7" fill="#e5e5e5" stroke="#9c9c9c" stroke-width="1.2"/>
<circle cx="613.1" cy="76.9" r="4.7" fill="#e5e5e5" stroke="#9c9c9c" stroke-width="1.2"/>
<circle cx="616.6" cy="74.1" r="4.7" fill="#e5e5e5" stroke="#9c9c9c" stroke-width="1.2"/>
<circle cx="620.8" cy="72.7" r="4.7" fill="#e5e5e5" stroke="#9c9c9c" stroke-width="1.2"/>
<circle cx="624.2" cy="70.7" r="4.7" fill="#e5e5e5" stroke="#9c9c9c" stroke-width="1.2"/>
<circle cx="627.0" cy="67.9" r="4.7" fill="#e5e5e5" stroke="#9c9c9c" stroke-width="1.2"/>
<circle cx="630.5" cy="65.8" r="4.7" fill="#e5e5e5" stroke="#9c9c9c" stroke-width="1.2"/>
<circle cx="634.6" cy="67.2" r="4.7" fill="#e5e5e5" stroke="#9c9c9c" stroke-width="1.2"/>
<circle cx="637.4" cy="65.1" r="4.7" fill="#e5e5e5" stroke="#9c9c9c" stroke-width="1.2"/>
<circle cx="640.9" cy="63.7" r="4.7" fill="#e5e5e5" stroke="#9c9c9c" stroke-width="1.2"/>
<circle cx="644.3" cy="60.3" r="4.7" fill="#e5e5e5" stroke="#9c9c9c" stroke-width="1.2"/>
<circle cx="648.5" cy="59.6" r="4.7" fill="#e5e5e5" stroke="#9c9c9c" stroke-width="1.2"/>
<circle cx="652.7" cy="58.2" r="4.7" fill="#e5e5e5" stroke="#9c9c9c" stroke-width="1.2"/>
<circle cx="656.8" cy="57.5" r="4.7" fill="#e5e5e5" stroke="#9c9c9c" stroke-width="1.2"/>
<circle cx="660.3" cy="55.4" r="4.7" fill="#e5e5e5" stroke="#9c9c9c" stroke-width="1.2"/>
<line x1="86.5" y1="192.7" x2="269.1" y2="192.7" stroke="#858585" stroke-width="1.5" />
<line x1="110.6" y1="184" x2="110.6" y2="192.5" stroke="#3a3a3a" stroke-width="1" />
<line x1="203.5" y1="184" x2="203.5" y2="192.5" stroke="#3a3a3a" stroke-width="1" />
<line x1="269.1" y1="184" x2="269.1" y2="193.4" stroke="#858585" stroke-width="1.4" />
<line x1="86.5" y1="37.5" x2="86.5" y2="193.4" stroke="#5e5e5e" stroke-width="1.25" />
<line x1="86.5" y1="37.5" x2="95.5" y2="37.5" stroke="#858585" stroke-width="1.4" />
<line x1="86.5" y1="102" x2="95.5" y2="102" stroke="#858585" stroke-width="1.4" />
<line x1="86.5" y1="166.8" x2="95.5" y2="166.8" stroke="#858585" stroke-width="1.4" />
<line x1="335.9" y1="192.7" x2="518.6" y2="192.7" stroke="#858585" stroke-width="1.5" />
<line x1="360.4" y1="184" x2="360.4" y2="192.5" stroke="#3a3a3a" stroke-width="1" />
<line x1="452.9" y1="184" x2="452.9" y2="192.5" stroke="#3a3a3a" stroke-width="1" />
<line x1="518.6" y1="184" x2="518.6" y2="193.4" stroke="#858585" stroke-width="1.4" />
<line x1="573.5" y1="192.7" x2="668.8" y2="192.7" stroke="#858585" stroke-width="1.5" />
<line x1="601" y1="184" x2="601" y2="192.5" stroke="#3a3a3a" stroke-width="1" />
<line x1="649" y1="184" x2="649" y2="192.5" stroke="#3a3a3a" stroke-width="1" />
<line x1="668.8" y1="184" x2="668.8" y2="193.4" stroke="#858585" stroke-width="1.4" />
<line x1="573.5" y1="37.5" x2="573.5" y2="193.4" stroke="#5e5e5e" stroke-width="1.25" />
<line x1="573.5" y1="37.5" x2="582.5" y2="37.5" stroke="#858585" stroke-width="1.4" />
<line x1="573.5" y1="102" x2="582.5" y2="102" stroke="#858585" stroke-width="1.4" />
<line x1="573.5" y1="166.8" x2="582.5" y2="166.8" stroke="#858585" stroke-width="1.4" />
<text x="0.1" y="299.6" font-size="24.6" fill="#231f20" text-anchor="start" textLength="15.8" lengthAdjust="spacingAndGlyphs" font-weight="bold" stroke="#231f20" stroke-width="0.9">b</text>
<text x="385.5" y="299.3" font-size="17.5" fill="#231f20" text-anchor="middle" textLength="267" lengthAdjust="spacingAndGlyphs" >Separation between pulses (ms)</text>
<text x="87.05" y="330.4" font-size="15.6" fill="#231f20" text-anchor="middle" textLength="24.6" lengthAdjust="spacingAndGlyphs" >6.0</text>
<text x="263.25" y="330.4" font-size="15.6" fill="#231f20" text-anchor="middle" textLength="24.6" lengthAdjust="spacingAndGlyphs" >3.0</text>
<text x="364.9" y="330.4" font-size="15.6" fill="#231f20" text-anchor="middle" textLength="24.6" lengthAdjust="spacingAndGlyphs" >2.0</text>
<text x="539.55" y="330.4" font-size="15.6" fill="#231f20" text-anchor="middle" textLength="24.6" lengthAdjust="spacingAndGlyphs" >1.0</text>
<text x="674.2" y="330.4" font-size="15.6" fill="#231f20" text-anchor="middle" textLength="24.6" lengthAdjust="spacingAndGlyphs" >0.6</text>
<rect x="86.5" y="338.2" width="135.8" height="204.7" fill="#f2f2f2"/>
<rect x="222.3" y="338.2" width="449.2" height="204.7" fill="#f9ebdd"/>
<line x1="222.3" y1="344.2" x2="222.3" y2="353.9" stroke="#666" stroke-width="1.4" />
<line x1="222.3" y1="359.0" x2="222.3" y2="378.1" stroke="#666" stroke-width="1.4" />
<line x1="222.3" y1="383.2" x2="222.3" y2="402.3" stroke="#666" stroke-width="1.4" />
<line x1="222.3" y1="407.4" x2="222.3" y2="426.5" stroke="#666" stroke-width="1.4" />
<line x1="222.3" y1="431.59999999999997" x2="222.3" y2="450.7" stroke="#666" stroke-width="1.4" />
<line x1="222.3" y1="455.79999999999995" x2="222.3" y2="474.9" stroke="#666" stroke-width="1.4" />
<line x1="222.3" y1="479.99999999999994" x2="222.3" y2="499.09999999999997" stroke="#666" stroke-width="1.4" />
<line x1="222.3" y1="504.19999999999993" x2="222.3" y2="523.3" stroke="#666" stroke-width="1.4" />
<line x1="222.3" y1="528.4" x2="222.3" y2="542.9" stroke="#666" stroke-width="1.4" />
<rect x="86.5" y="338.2" width="585" height="204.7" fill="none" stroke="#5a5a5a" stroke-width="1.3"/>
<line x1="263.16172346689785" y1="537.6999999999999" x2="263.16172346689785" y2="542.9" stroke="#444" stroke-width="1" />
<line x1="366.0342370072268" y1="537.6999999999999" x2="366.0342370072268" y2="542.9" stroke="#444" stroke-width="1" />
<line x1="439.0234469337957" y1="537.6999999999999" x2="439.0234469337957" y2="542.9" stroke="#444" stroke-width="1" />
<line x1="495.63827653310227" y1="537.6999999999999" x2="495.63827653310227" y2="542.9" stroke="#444" stroke-width="1" />
<line x1="541.8959604741246" y1="537.6999999999999" x2="541.8959604741246" y2="542.9" stroke="#444" stroke-width="1" />
<line x1="581.0062749763289" y1="537.6999999999999" x2="581.0062749763289" y2="542.9" stroke="#444" stroke-width="1" />
<line x1="614.8851704006934" y1="537.6999999999999" x2="614.8851704006934" y2="542.9" stroke="#444" stroke-width="1" />
<line x1="644.7684740144535" y1="537.6999999999999" x2="644.7684740144535" y2="542.9" stroke="#444" stroke-width="1" />
<line x1="86.5" y1="338.2" x2="95.5" y2="338.2" stroke="#5a5a5a" stroke-width="1.3" />
<text x="72.9" y="345" font-size="15.6" fill="#231f20" text-anchor="middle" textLength="9.9" lengthAdjust="spacingAndGlyphs" >6</text>
<line x1="86.5" y1="440.5" x2="95.5" y2="440.5" stroke="#5a5a5a" stroke-width="1.3" />
<text x="72" y="447.6" font-size="15.6" fill="#231f20" text-anchor="middle" textLength="9.9" lengthAdjust="spacingAndGlyphs" >3</text>
<line x1="86.5" y1="542.9" x2="95.5" y2="542.9" stroke="#5a5a5a" stroke-width="1.3" />
<text x="73.3" y="549.4" font-size="15.6" fill="#231f20" text-anchor="middle" textLength="10.4" lengthAdjust="spacingAndGlyphs" >0</text>
<g clip-path="url(#cb)">
<line x1="87.3" y1="542.5" x2="87.3" y2="542.5" stroke="#d9488f" stroke-width="1.2" />
<line x1="87.3" y1="542.5" x2="87.3" y2="542.5" stroke="#d9488f" stroke-width="1.3" />
<line x1="87.3" y1="542.5" x2="87.3" y2="542.5" stroke="#d9488f" stroke-width="1.3" />
<circle cx="87.3" cy="542.5" r="5.2" fill="#ecc6dc" stroke="#d9488f" stroke-width="1.2"/>
<line x1="133.55768394102242" y1="542.5" x2="133.55768394102242" y2="542.5" stroke="#d9488f" stroke-width="1.2" />
<line x1="133.55768394102242" y1="542.5" x2="133.55768394102242" y2="542.5" stroke="#d9488f" stroke-width="1.3" />
<line x1="133.55768394102242" y1="542.5" x2="133.55768394102242" y2="542.5" stroke="#d9488f" stroke-width="1.3" />
<circle cx="133.6" cy="542.5" r="5.2" fill="#ecc6dc" stroke="#d9488f" stroke-width="1.2"/>
<line x1="172.66799844322665" y1="542.5" x2="172.66799844322665" y2="542.5" stroke="#d9488f" stroke-width="1.2" />
<line x1="172.66799844322665" y1="542.5" x2="172.66799844322665" y2="542.5" stroke="#d9488f" stroke-width="1.3" />
<line x1="172.66799844322665" y1="542.5" x2="172.66799844322665" y2="542.5" stroke="#d9488f" stroke-width="1.3" />
<circle cx="172.7" cy="542.5" r="5.2" fill="#ecc6dc" stroke="#d9488f" stroke-width="1.2"/>
<line x1="206.54689386759128" y1="535.6" x2="206.54689386759128" y2="542" stroke="#d9488f" stroke-width="1.2" />
<line x1="200.04689386759128" y1="535.6" x2="213.04689386759128" y2="535.6" stroke="#d9488f" stroke-width="1.3" />
<line x1="200.04689386759128" y1="542" x2="213.04689386759128" y2="542" stroke="#d9488f" stroke-width="1.3" />
<circle cx="206.5" cy="538.8" r="5.2" fill="#ecc6dc" stroke="#d9488f" stroke-width="1.2"/>
<line x1="236.4301974813514" y1="516.9" x2="236.4301974813514" y2="526.2" stroke="#d9488f" stroke-width="1.2" />
<line x1="228.4301974813514" y1="516.9" x2="244.4301974813514" y2="516.9" stroke="#d9488f" stroke-width="1.3" />
<line x1="228.4301974813514" y1="526.2" x2="244.4301974813514" y2="526.2" stroke="#d9488f" stroke-width="1.3" />
<circle cx="236.4" cy="521.6" r="5.2" fill="#ecc6dc" stroke="#d9488f" stroke-width="1.2"/>
<line x1="263.16172346689785" y1="511.8" x2="263.16172346689785" y2="519.3" stroke="#d9488f" stroke-width="1.2" />
<line x1="256.66172346689785" y1="511.8" x2="269.66172346689785" y2="511.8" stroke="#d9488f" stroke-width="1.3" />
<line x1="256.66172346689785" y1="519.3" x2="269.66172346689785" y2="519.3" stroke="#d9488f" stroke-width="1.3" />
<circle cx="263.2" cy="515.5" r="5.2" fill="#ecc6dc" stroke="#d9488f" stroke-width="1.2"/>
<line x1="319.7765530662044" y1="434.7" x2="319.7765530662044" y2="459.9" stroke="#d9488f" stroke-width="1.2" />
<line x1="311.2765530662044" y1="434.7" x2="328.2765530662044" y2="434.7" stroke="#d9488f" stroke-width="1.3" />
<line x1="311.2765530662044" y1="459.9" x2="328.2765530662044" y2="459.9" stroke="#d9488f" stroke-width="1.3" />
<circle cx="319.8" cy="446.8" r="5.2" fill="#ecc6dc" stroke="#d9488f" stroke-width="1.2"/>
<line x1="366.0342370072268" y1="428.6" x2="366.0342370072268" y2="437.5" stroke="#d9488f" stroke-width="1.2" />
<line x1="358.0342370072268" y1="428.6" x2="374.0342370072268" y2="428.6" stroke="#d9488f" stroke-width="1.3" />
<line x1="358.0342370072268" y1="437.5" x2="374.0342370072268" y2="437.5" stroke="#d9488f" stroke-width="1.3" />
<circle cx="366.0" cy="432.8" r="5.2" fill="#ecc6dc" stroke="#d9488f" stroke-width="1.2"/>
<line x1="439.0234469337957" y1="405.4" x2="439.0234469337957" y2="421.5" stroke="#d9488f" stroke-width="1.2" />
<line x1="430.5234469337957" y1="405.4" x2="447.5234469337957" y2="405.4" stroke="#d9488f" stroke-width="1.3" />
<line x1="430.5234469337957" y1="421.5" x2="447.5234469337957" y2="421.5" stroke="#d9488f" stroke-width="1.3" />
<circle cx="439.0" cy="413.5" r="5.2" fill="#ecc6dc" stroke="#d9488f" stroke-width="1.2"/>
<line x1="495.63827653310227" y1="387.2" x2="495.63827653310227" y2="404.1" stroke="#d9488f" stroke-width="1.2" />
<line x1="487.13827653310227" y1="387.2" x2="504.13827653310227" y2="387.2" stroke="#d9488f" stroke-width="1.3" />
<line x1="487.13827653310227" y1="404.1" x2="504.13827653310227" y2="404.1" stroke="#d9488f" stroke-width="1.3" />
<circle cx="495.6" cy="395.7" r="5.2" fill="#ecc6dc" stroke="#d9488f" stroke-width="1.2"/>
<line x1="541.8959604741246" y1="373.8" x2="541.8959604741246" y2="392" stroke="#d9488f" stroke-width="1.2" />
<line x1="533.3959604741246" y1="373.8" x2="550.3959604741246" y2="373.8" stroke="#d9488f" stroke-width="1.3" />
<line x1="533.3959604741246" y1="392" x2="550.3959604741246" y2="392" stroke="#d9488f" stroke-width="1.3" />
<circle cx="541.9" cy="383.2" r="5.2" fill="#ecc6dc" stroke="#d9488f" stroke-width="1.2"/>
<line x1="581.0062749763289" y1="381.9" x2="581.0062749763289" y2="394.8" stroke="#d9488f" stroke-width="1.2" />
<line x1="572.5062749763289" y1="381.9" x2="589.5062749763289" y2="381.9" stroke="#d9488f" stroke-width="1.3" />
<line x1="572.5062749763289" y1="394.8" x2="589.5062749763289" y2="394.8" stroke="#d9488f" stroke-width="1.3" />
<circle cx="581.0" cy="388.1" r="5.2" fill="#ecc6dc" stroke="#d9488f" stroke-width="1.2"/>
<line x1="614.8851704006934" y1="382.7" x2="614.8851704006934" y2="402.3" stroke="#d9488f" stroke-width="1.2" />
<line x1="606.3851704006934" y1="382.7" x2="623.3851704006934" y2="382.7" stroke="#d9488f" stroke-width="1.3" />
<line x1="606.3851704006934" y1="402.3" x2="623.3851704006934" y2="402.3" stroke="#d9488f" stroke-width="1.3" />
<circle cx="614.9" cy="392.5" r="5.2" fill="#ecc6dc" stroke="#d9488f" stroke-width="1.2"/>
<line x1="644.7684740144535" y1="355.6" x2="644.7684740144535" y2="412.6" stroke="#d9488f" stroke-width="1.2" />
<line x1="636.2684740144535" y1="355.6" x2="653.2684740144535" y2="355.6" stroke="#d9488f" stroke-width="1.3" />
<line x1="636.2684740144535" y1="412.6" x2="653.2684740144535" y2="412.6" stroke="#d9488f" stroke-width="1.3" />
<circle cx="644.8" cy="384.1" r="5.2" fill="#ecc6dc" stroke="#d9488f" stroke-width="1.2"/>
<line x1="671.5" y1="385.7" x2="671.5" y2="391.5" stroke="#d9488f" stroke-width="1.2" />
<line x1="663.5" y1="385.7" x2="679.5" y2="385.7" stroke="#d9488f" stroke-width="1.3" />
<line x1="663.5" y1="391.5" x2="679.5" y2="391.5" stroke="#d9488f" stroke-width="1.3" />
<circle cx="671.5" cy="388.5" r="5.2" fill="#ecc6dc" stroke="#d9488f" stroke-width="1.2"/>
</g>
<line x1="671.6" y1="480.9" x2="671.6" y2="494.3" stroke="#888" stroke-width="1.4" />
<line x1="662.8" y1="480.9" x2="680" y2="480.9" stroke="#8c8c8c" stroke-width="1.5" />
<line x1="662.8" y1="494.3" x2="680" y2="494.3" stroke="#8c8c8c" stroke-width="1.5" />
<rect x="666.5" y="482.7" width="10.4" height="10.4" fill="#e8e8e8" stroke="#8c8c8c" stroke-width="1.3"/>
<text x="661.9" y="494.2" font-size="17.3" fill="#231f20" text-anchor="end" textLength="29.4" lengthAdjust="spacingAndGlyphs" >CW</text>
<text x="78.6" y="567.1999999999999" font-size="15.6" fill="#231f20">10<tspan font-size="9.8" dy="-8.6" dx="-0.4">2</tspan></text>
<text x="660.4" y="567.1999999999999" font-size="15.6" fill="#231f20">10<tspan font-size="9.8" dy="-8.6" dx="-0.4">3</tspan></text>
<text x="383.6" y="584.6" font-size="17.5" fill="#231f20" text-anchor="middle" textLength="187" lengthAdjust="spacingAndGlyphs" >Pulsing frequency (Hz)</text>
<line x1="263.16172346689785" y1="338.2" x2="263.16172346689785" y2="343.5" stroke="#444" stroke-width="1" />
<line x1="366.0342370072268" y1="338.2" x2="366.0342370072268" y2="343.5" stroke="#444" stroke-width="1" />
<line x1="541.8959604741246" y1="338.2" x2="541.8959604741246" y2="343.5" stroke="#444" stroke-width="1" />
<text x="153.8" y="369.9" font-size="18.3" fill="#231f20" text-anchor="middle" textLength="59.4" lengthAdjust="spacingAndGlyphs" >No IOB</text>
<text x="446.5" y="370.3" font-size="18.3" fill="#231f20" text-anchor="middle" textLength="31.8" lengthAdjust="spacingAndGlyphs" >IOB</text>
<text transform="translate(26.9,440.2) rotate(-90)" font-size="18.4" fill="#231f20" text-anchor="middle" textLength="134.6" lengthAdjust="spacingAndGlyphs">Hysteresis width</text>
<text transform="translate(47.4,441) rotate(-90)" font-size="18.4" fill="#231f20" text-anchor="middle" textLength="80.5" lengthAdjust="spacingAndGlyphs">(kW cm<tspan font-size="11" dy="-7.4">−2</tspan><tspan dy="7.4">)</tspan></text>
<text x="-0.1" y="624.0" font-size="24.6" fill="#231f20" text-anchor="start" textLength="14.6" lengthAdjust="spacingAndGlyphs" font-weight="bold" stroke="#231f20" stroke-width="0.9">c</text>
<rect x="86.5" y="626.7" width="135.8" height="204.0999999999999" fill="#f2f2f2"/>
<rect x="222.3" y="626.7" width="449.2" height="204.0999999999999" fill="#f9ebdd"/>
<line x1="222.3" y1="632.7" x2="222.3" y2="642.4000000000001" stroke="#666" stroke-width="1.4" />
<line x1="222.3" y1="647.5" x2="222.3" y2="666.6" stroke="#666" stroke-width="1.4" />
<line x1="222.3" y1="671.7" x2="222.3" y2="690.8000000000001" stroke="#666" stroke-width="1.4" />
<line x1="222.3" y1="695.9000000000001" x2="222.3" y2="715.0000000000001" stroke="#666" stroke-width="1.4" />
<line x1="222.3" y1="720.1000000000001" x2="222.3" y2="739.2000000000002" stroke="#666" stroke-width="1.4" />
<line x1="222.3" y1="744.3000000000002" x2="222.3" y2="763.4000000000002" stroke="#666" stroke-width="1.4" />
<line x1="222.3" y1="768.5000000000002" x2="222.3" y2="787.6000000000003" stroke="#666" stroke-width="1.4" />
<line x1="222.3" y1="792.7000000000003" x2="222.3" y2="811.8000000000003" stroke="#666" stroke-width="1.4" />
<line x1="222.3" y1="816.9000000000003" x2="222.3" y2="830.8" stroke="#666" stroke-width="1.4" />
<rect x="86.5" y="626.7" width="585" height="204.0999999999999" fill="none" stroke="#5a5a5a" stroke-width="1.3"/>
<line x1="263.16172346689785" y1="825.5999999999999" x2="263.16172346689785" y2="830.8" stroke="#444" stroke-width="1" />
<line x1="366.0342370072268" y1="825.5999999999999" x2="366.0342370072268" y2="830.8" stroke="#444" stroke-width="1" />
<line x1="439.0234469337957" y1="825.5999999999999" x2="439.0234469337957" y2="830.8" stroke="#444" stroke-width="1" />
<line x1="495.63827653310227" y1="825.5999999999999" x2="495.63827653310227" y2="830.8" stroke="#444" stroke-width="1" />
<line x1="541.8959604741246" y1="825.5999999999999" x2="541.8959604741246" y2="830.8" stroke="#444" stroke-width="1" />
<line x1="581.0062749763289" y1="825.5999999999999" x2="581.0062749763289" y2="830.8" stroke="#444" stroke-width="1" />
<line x1="614.8851704006934" y1="825.5999999999999" x2="614.8851704006934" y2="830.8" stroke="#444" stroke-width="1" />
<line x1="644.7684740144535" y1="825.5999999999999" x2="644.7684740144535" y2="830.8" stroke="#444" stroke-width="1" />
<line x1="86.5" y1="626.7" x2="95.5" y2="626.7" stroke="#5a5a5a" stroke-width="1.3" />
<text x="72.45" y="633.7" font-size="15.6" fill="#231f20" text-anchor="middle" textLength="18.4" lengthAdjust="spacingAndGlyphs" >20</text>
<line x1="86.5" y1="728.7" x2="95.5" y2="728.7" stroke="#5a5a5a" stroke-width="1.3" />
<text x="69.4" y="735.7" font-size="15.6" fill="#231f20" text-anchor="middle" textLength="14.9" lengthAdjust="spacingAndGlyphs" >15</text>
<line x1="86.5" y1="830.8" x2="95.5" y2="830.8" stroke="#5a5a5a" stroke-width="1.3" />
<text x="70.4" y="837.6" font-size="15.6" fill="#231f20" text-anchor="middle" textLength="17.5" lengthAdjust="spacingAndGlyphs" >10</text>
<g clip-path="url(#cc)">
<line x1="87.3" y1="809.5" x2="87.3" y2="818.3" stroke="#d9488f" stroke-width="1.2" />
<line x1="79.3" y1="809.5" x2="95.3" y2="809.5" stroke="#d9488f" stroke-width="1.3" />
<line x1="79.3" y1="818.3" x2="95.3" y2="818.3" stroke="#d9488f" stroke-width="1.3" />
<circle cx="87.3" cy="813.9" r="5.2" fill="#ecc6dc" stroke="#d9488f" stroke-width="1.2"/>
<line x1="133.55768394102242" y1="786.3" x2="133.55768394102242" y2="795.1" stroke="#d9488f" stroke-width="1.2" />
<line x1="125.55768394102242" y1="786.3" x2="141.55768394102242" y2="786.3" stroke="#d9488f" stroke-width="1.3" />
<line x1="125.55768394102242" y1="795.1" x2="141.55768394102242" y2="795.1" stroke="#d9488f" stroke-width="1.3" />
<circle cx="133.6" cy="790.7" r="5.2" fill="#ecc6dc" stroke="#d9488f" stroke-width="1.2"/>
<line x1="172.66799844322665" y1="768" x2="172.66799844322665" y2="776.6" stroke="#d9488f" stroke-width="1.2" />
<line x1="164.66799844322665" y1="768" x2="180.66799844322665" y2="768" stroke="#d9488f" stroke-width="1.3" />
<line x1="164.66799844322665" y1="776.6" x2="180.66799844322665" y2="776.6" stroke="#d9488f" stroke-width="1.3" />
<circle cx="172.7" cy="772.3" r="5.2" fill="#ecc6dc" stroke="#d9488f" stroke-width="1.2"/>
<line x1="206.54689386759128" y1="760" x2="206.54689386759128" y2="767.8" stroke="#d9488f" stroke-width="1.2" />
<line x1="198.54689386759128" y1="760" x2="214.54689386759128" y2="760" stroke="#d9488f" stroke-width="1.3" />
<line x1="198.54689386759128" y1="767.8" x2="214.54689386759128" y2="767.8" stroke="#d9488f" stroke-width="1.3" />
<circle cx="206.5" cy="763.9" r="5.2" fill="#ecc6dc" stroke="#d9488f" stroke-width="1.2"/>
<line x1="236.4301974813514" y1="752.6" x2="236.4301974813514" y2="760.4" stroke="#d9488f" stroke-width="1.2" />
<line x1="228.4301974813514" y1="752.6" x2="244.4301974813514" y2="752.6" stroke="#d9488f" stroke-width="1.3" />
<line x1="228.4301974813514" y1="760.4" x2="244.4301974813514" y2="760.4" stroke="#d9488f" stroke-width="1.3" />
<circle cx="236.4" cy="756.5" r="5.2" fill="#ecc6dc" stroke="#d9488f" stroke-width="1.2"/>
<line x1="263.16172346689785" y1="742.5" x2="263.16172346689785" y2="751.3" stroke="#d9488f" stroke-width="1.2" />
<line x1="255.16172346689785" y1="742.5" x2="271.16172346689785" y2="742.5" stroke="#d9488f" stroke-width="1.3" />
<line x1="255.16172346689785" y1="751.3" x2="271.16172346689785" y2="751.3" stroke="#d9488f" stroke-width="1.3" />
<circle cx="263.2" cy="746.9" r="5.2" fill="#ecc6dc" stroke="#d9488f" stroke-width="1.2"/>
<line x1="319.7765530662044" y1="722.3" x2="319.7765530662044" y2="735" stroke="#d9488f" stroke-width="1.2" />
<line x1="311.7765530662044" y1="722.3" x2="327.7765530662044" y2="722.3" stroke="#d9488f" stroke-width="1.3" />
<line x1="311.7765530662044" y1="735" x2="327.7765530662044" y2="735" stroke="#d9488f" stroke-width="1.3" />
<circle cx="319.8" cy="728.9" r="5.2" fill="#ecc6dc" stroke="#d9488f" stroke-width="1.2"/>
<line x1="366.0342370072268" y1="716.2" x2="366.0342370072268" y2="724" stroke="#d9488f" stroke-width="1.2" />
<line x1="358.0342370072268" y1="716.2" x2="374.0342370072268" y2="716.2" stroke="#d9488f" stroke-width="1.3" />
<line x1="358.0342370072268" y1="724" x2="374.0342370072268" y2="724" stroke="#d9488f" stroke-width="1.3" />
<circle cx="366.0" cy="720.1" r="5.2" fill="#ecc6dc" stroke="#d9488f" stroke-width="1.2"/>
<line x1="439.0234469337957" y1="710.4" x2="439.0234469337957" y2="721.5" stroke="#d9488f" stroke-width="1.2" />
<line x1="430.5234469337957" y1="710.4" x2="447.5234469337957" y2="710.4" stroke="#d9488f" stroke-width="1.3" />
<line x1="430.5234469337957" y1="721.5" x2="447.5234469337957" y2="721.5" stroke="#d9488f" stroke-width="1.3" />
<circle cx="439.0" cy="715.7" r="5.2" fill="#ecc6dc" stroke="#d9488f" stroke-width="1.2"/>
<line x1="495.63827653310227" y1="714.8" x2="495.63827653310227" y2="723.3" stroke="#d9488f" stroke-width="1.2" />
<line x1="487.13827653310227" y1="714.8" x2="504.13827653310227" y2="714.8" stroke="#d9488f" stroke-width="1.3" />
<line x1="487.13827653310227" y1="723.3" x2="504.13827653310227" y2="723.3" stroke="#d9488f" stroke-width="1.3" />
<circle cx="495.6" cy="718.8" r="5.2" fill="#ecc6dc" stroke="#d9488f" stroke-width="1.2"/>
<line x1="541.8959604741246" y1="702.8" x2="541.8959604741246" y2="718.8" stroke="#d9488f" stroke-width="1.2" />
<line x1="533.3959604741246" y1="702.8" x2="550.3959604741246" y2="702.8" stroke="#d9488f" stroke-width="1.3" />
<line x1="533.3959604741246" y1="718.8" x2="550.3959604741246" y2="718.8" stroke="#d9488f" stroke-width="1.3" />
<circle cx="541.9" cy="710.8" r="5.2" fill="#ecc6dc" stroke="#d9488f" stroke-width="1.2"/>
<line x1="581.0062749763289" y1="714.4" x2="581.0062749763289" y2="722.4" stroke="#d9488f" stroke-width="1.2" />
<line x1="572.5062749763289" y1="714.4" x2="589.5062749763289" y2="714.4" stroke="#d9488f" stroke-width="1.3" />
<line x1="572.5062749763289" y1="722.4" x2="589.5062749763289" y2="722.4" stroke="#d9488f" stroke-width="1.3" />
<circle cx="581.0" cy="718.4" r="5.2" fill="#ecc6dc" stroke="#d9488f" stroke-width="1.2"/>
<line x1="614.8851704006934" y1="709.5" x2="614.8851704006934" y2="717.1" stroke="#d9488f" stroke-width="1.2" />
<line x1="606.3851704006934" y1="709.5" x2="623.3851704006934" y2="709.5" stroke="#d9488f" stroke-width="1.3" />
<line x1="606.3851704006934" y1="717.1" x2="623.3851704006934" y2="717.1" stroke="#d9488f" stroke-width="1.3" />
<circle cx="614.9" cy="713.0" r="5.2" fill="#ecc6dc" stroke="#d9488f" stroke-width="1.2"/>
<line x1="644.7684740144535" y1="672.1" x2="644.7684740144535" y2="726.9" stroke="#d9488f" stroke-width="1.2" />
<line x1="636.2684740144535" y1="672.1" x2="653.2684740144535" y2="672.1" stroke="#d9488f" stroke-width="1.3" />
<line x1="636.2684740144535" y1="726.9" x2="653.2684740144535" y2="726.9" stroke="#d9488f" stroke-width="1.3" />
<circle cx="644.8" cy="699.3" r="5.2" fill="#ecc6dc" stroke="#d9488f" stroke-width="1.2"/>
<line x1="671.5" y1="712.8" x2="671.5" y2="718.6" stroke="#d9488f" stroke-width="1.2" />
<line x1="663.5" y1="712.8" x2="679.5" y2="712.8" stroke="#d9488f" stroke-width="1.3" />
<line x1="663.5" y1="718.6" x2="679.5" y2="718.6" stroke="#d9488f" stroke-width="1.3" />
<circle cx="671.5" cy="715.7" r="5.2" fill="#ecc6dc" stroke="#d9488f" stroke-width="1.2"/>
</g>
<line x1="671.6" y1="804.7" x2="671.6" y2="809.4" stroke="#888" stroke-width="1.4" />
<line x1="662.8" y1="804.7" x2="680" y2="804.7" stroke="#8c8c8c" stroke-width="1.5" />
<line x1="662.8" y1="809.4" x2="680" y2="809.4" stroke="#8c8c8c" stroke-width="1.5" />
<rect x="666.5" y="802.9" width="10.4" height="10.4" fill="#e8e8e8" stroke="#8c8c8c" stroke-width="1.3"/>
<text x="661.9" y="814.4" font-size="17.3" fill="#231f20" text-anchor="end" textLength="29.4" lengthAdjust="spacingAndGlyphs" >CW</text>
<text x="78.6" y="855.0999999999999" font-size="15.6" fill="#231f20">10<tspan font-size="9.8" dy="-8.6" dx="-0.4">2</tspan></text>
<text x="660.4" y="855.0999999999999" font-size="15.6" fill="#231f20">10<tspan font-size="9.8" dy="-8.6" dx="-0.4">3</tspan></text>
<text x="383.6" y="873.5999999999999" font-size="17.5" fill="#231f20" text-anchor="middle" textLength="187" lengthAdjust="spacingAndGlyphs" >Pulsing frequency (Hz)</text>
<text transform="translate(41.6,728.2) rotate(-90)" font-size="18.4" fill="#231f20" text-anchor="middle" textLength="171" lengthAdjust="spacingAndGlyphs">Threshold (kW cm<tspan font-size="11" dy="-7.4">−2</tspan><tspan dy="7.4">)</tspan></text>
</svg></body></html>
